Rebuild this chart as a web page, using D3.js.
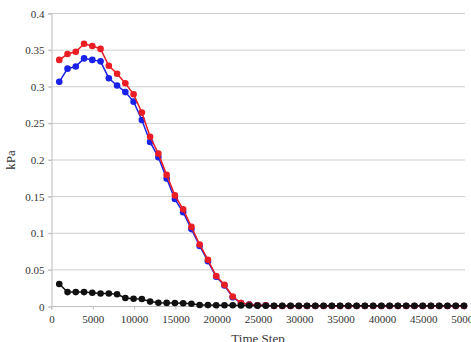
<!DOCTYPE html>
<html><head><meta charset="utf-8">
<script src="https://cdn.jsdelivr.net/npm/d3@7"></script>
<style>body{margin:0;background:#fff;overflow:hidden}svg{display:block}svg text{font-family:"Liberation Serif","Times New Roman",serif}</style>
</head><body>
<script>
const steps = d3.range(1000, 50001, 1000);
const redVals = [0.336,0.344,0.347,0.358,0.355,0.351,0.328,0.317,0.304,0.289,0.264,0.231,0.208,0.179,0.151,0.132,0.108,0.084,0.063,0.041,0.029,0.013,0.004,0.002,0.001,0.001,
  0,0,0,0,0,0,0,0,0,0,0,0,0,0,0,0,0,0,0,0,0,0,0,0];
const blueVals = [0.306,0.324,0.327,0.338,0.336,0.334,0.311,0.301,0.292,0.279,0.254,0.224,0.203,0.174,0.146,0.128,0.105,0.082,0.061,0.040,0.028,0.012,0.004,0.002,0.001,0.001,
  0,0,0,0,0,0,0,0,0,0,0,0,0,0,0,0,0,0,0,0,0,0,0,0];
const blackVals = [0.030,0.019,0.019,0.019,0.018,0.017,0.017,0.016,0.011,0.010,0.0095,0.006,0.0045,0.0042,0.004,0.0038,0.003,0.0014,0.0012,0.001,0.001,0.001,0.0008,0.0006,0.0005,
  0.0004,0.0004,0.0004,0.0004,0.0004,0.0004,0.0004,0.0004,0.0004,0.0004,0.0004,0.0004,0.0004,0.0004,0.0004,0.0004,0.0004,0.0004,0.0004,0.0004,0.0004,0.0004,0.0004,0.0004,0.0004];
const xTicks = [0,5000,10000,15000,20000,25000,30000,35000,40000,45000,50000];
const yTicks = [0,0.05,0.1,0.15,0.2,0.25,0.3,0.35,0.4];
const series = [
  {name:"black", vals:blackVals, color:"#111111"},
  {name:"blue", vals:blueVals, color:"#1a22e8"},
  {name:"red", vals:redVals, color:"#ea1c24"}
];
const drawOrder = [series[1], series[2], series[0]];

const W = 471, H = 342;
const svg = d3.select("body").append("svg").attr("width", W).attr("height", H);
const x = d3.scaleLinear().domain([0, 50000]).range([51, 464]);
const y = d3.scaleLinear().domain([0, 0.4]).range([306, 13]);
const font = "'Liberation Serif', 'Times New Roman', serif";

// grid
svg.append("g").selectAll("line").data(yTicks.filter(d => d > 0)).join("line")
  .attr("x1", 48).attr("x2", 465).attr("y1", d => y(d) + 0.5).attr("y2", d => y(d) + 0.5)
  .attr("stroke", "#cfcfcf").attr("stroke-width", 1);

// y axis
const yAxis = svg.append("g").attr("transform", "translate(51.5,0.5)")
  .call(d3.axisLeft(y).tickValues(yTicks).tickSize(3).tickPadding(4).tickFormat(d => d3.format("")(+d.toFixed(2))));
yAxis.attr("font-family", null);
yAxis.select(".domain").attr("stroke", "#bdbdbd");
yAxis.selectAll(".tick line").attr("stroke", "#bdbdbd");
yAxis.selectAll("text").style("font-family", font).style("font-size", "11px").attr("fill", "#333");

// x axis
const xAxis = svg.append("g").attr("transform", "translate(0.5,306.5)")
  .call(d3.axisBottom(x).tickValues(xTicks).tickSize(3).tickPadding(6).tickFormat(d3.format("d")));
xAxis.attr("font-family", null);
xAxis.select(".domain").attr("stroke", "#bdbdbd").attr("d", "M51,3V0H465");
xAxis.selectAll(".tick line").attr("stroke", "#bdbdbd");
xAxis.selectAll("text").style("font-family", font).style("font-size", "11px").attr("fill", "#333");

// labels
svg.append("text").attr("transform", "translate(15,160) rotate(-90)").attr("text-anchor", "middle")
  .style("font-family", font).style("font-size", "13px").attr("fill", "#333").text("kPa");
svg.append("text").attr("x", 258).attr("y", 343).attr("text-anchor", "middle")
  .style("font-family", font).style("font-size", "13px").attr("fill", "#333").text("Time Step");

const line = d3.line().x((d, i) => x(steps[i])).y(d => y(d));
for (const s of drawOrder) {
  const g = svg.append("g");
  g.append("path").attr("d", line(s.vals)).attr("fill", "none").attr("stroke", s.color).attr("stroke-width", 1.5);
  g.selectAll("circle").data(s.vals).join("circle")
    .attr("cx", (d, i) => x(steps[i])).attr("cy", d => y(d)).attr("r", 3.3).attr("fill", s.color);
}
</script>
</body></html>
